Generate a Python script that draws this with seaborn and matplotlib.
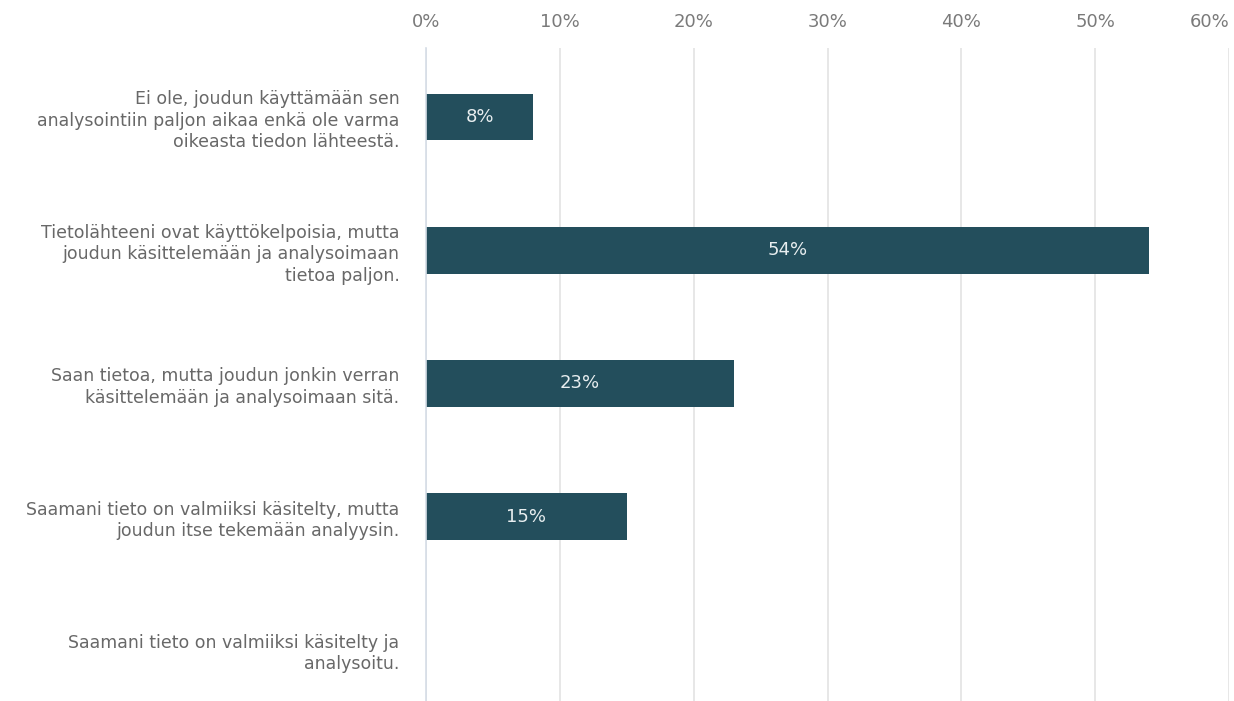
import matplotlib
matplotlib.use("Agg")
import matplotlib.pyplot as plt
import seaborn as sns
import pandas as pd

categories = [
    "Ei ole, joudun käyttämään sen\nanalysointiin paljon aikaa enkä ole varma\noikeasta tiedon lähteestä.",
    "Tietolähteeni ovat käyttökelpoisia, mutta\njoudun käsittelemään ja analysoimaan\ntietoa paljon.",
    "Saan tietoa, mutta joudun jonkin verran\nkäsittelemään ja analysoimaan sitä.",
    "Saamani tieto on valmiiksi käsitelty, mutta\njoudun itse tekemään analyysin.",
    "Saamani tieto on valmiiksi käsitelty ja\nanalysoitu.",
]
values = [0.08, 0.54, 0.23, 0.15, 0.0]
tick_values = [0, 0.1, 0.2, 0.3, 0.4, 0.5, 0.6]
tick_labels = ["0%", "10%", "20%", "30%", "40%", "50%", "60%"]

sns.set_theme(style="white")
plt.rcParams["font.family"] = ["DejaVu Sans"]

df = pd.DataFrame({"category": categories, "value": values})

fig = plt.figure(figsize=(12.34, 7.01), dpi=100)
ax = fig.add_axes([426 / 1234, 0, (1229 - 426) / 1234, 1 - 48 / 701])

sns.barplot(data=df, x="value", y="category", orient="h", color="#234e5c",
            width=0.35, saturation=1, linewidth=0, ax=ax, zorder=3)

ax.set_xlim(0, 0.6)
ax.set_ylim(4.383, -0.518)
ax.set_xlabel("")
ax.set_ylabel("")

ax.xaxis.tick_top()
ax.set_xticks(tick_values)
ax.set_xticklabels(tick_labels)
ax.tick_params(axis="x", length=0, pad=12, labelsize=13, labelcolor="#7a7a7a")
ax.tick_params(axis="y", length=0, pad=19, labelsize=12.5, labelcolor="#686868")
for lab in ax.get_yticklabels():
    lab.set_linespacing(1.25)
xl = ax.get_xticklabels()
xl[-1].set_horizontalalignment("right")

ax.grid(axis="x", color="#e3e3e3", linewidth=1.2, zorder=0)
ax.grid(axis="y", visible=False)
for s in ["top", "right", "bottom"]:
    ax.spines[s].set_visible(False)
ax.spines["left"].set_color("#d5dde6")
ax.spines["left"].set_linewidth(1.2)
ax.spines["left"].set_zorder(5)

labels = [f"{round(v * 100)}%" if v > 0 else "" for v in values]
ax.bar_label(ax.containers[0], labels=labels, label_type="center",
             color="#e8eef0", fontsize=13)

fig.savefig("out.png", dpi=100, facecolor="white")
